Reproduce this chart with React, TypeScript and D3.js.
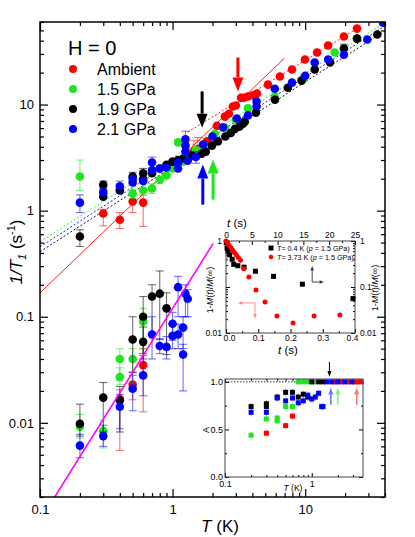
import { useRef, useEffect } from 'react';
import * as d3 from 'd3';

// main panel, rows are [T (K), 1/T1 (1/s), errLow, errHigh]
// upper branch (long component)
const ambientLong = [
  [0.3, 0.94, 0.72, 1.03], [0.4, 0.82, 0.68, 0.96], [0.5, 1.22, 0.96, 1.38], [0.6, 1.19, 0.71, 1.4],
  [1.45, 3.6, 3.0, 4.6], [1.55, 3.8, 3.2, 4.9], [1.82, 4.5], [2.16, 6.3], [2.48, 7.7], [2.66, 8.2],
  [2.85, 9.6], [3.0, 9.8], [3.28, 11.6], [3.45, 11.6], [3.7, 11.9], [4.04, 12.2], [4.33, 12.7],
  [5.24, 15.4], [6.45, 18.4], [7.95, 21.4], [9.96, 26.6], [12.3, 31], [14.9, 36], [19.6, 43.8], [24.6, 52],
];
const p15Long = [
  [0.2, 2.1, 1.55, 3.0], [0.3, 1.45, 1.3, 1.6], [0.4, 1.6, 1.45, 1.75], [0.5, 1.45, 1.3, 1.6], [0.6, 1.55],
  [0.7, 1.62, 1.45, 1.8], [0.8, 1.95], [0.9, 2.15], [1.0, 2.5], [1.1, 4.4], [1.2, 2.9], [1.3, 3.2],
  [1.5, 3.7], [1.7, 4.1], [2.08, 5.3], [2.5, 6.0], [3.0, 7.2], [3.7, 9.2], [5.9, 11.9], [9.8, 17.9],
  [16.7, 31], [24.6, 42],
];
const p19Long = [
  [0.2, 0.57, 0.46, 0.66], [0.3, 1.75, 1.6, 1.9], [0.3, 1.35], [0.4, 1.55], [0.5, 2.1, 1.9, 2.3],
  [0.6, 2.25, 2.0, 2.5], [0.6, 2.0], [0.7, 2.25], [0.8, 2.5], [0.9, 2.7], [1.0, 2.9], [1.1, 3.0],
  [1.2, 3.1], [1.4, 3.3], [1.66, 3.45], [1.78, 3.6], [1.98, 4.1], [2.2, 4.5], [2.5, 5.0], [2.75, 5.4],
  [2.95, 5.9], [3.2, 6.2], [3.4, 6.6], [3.5, 6.9], [4.25, 8.4], [5.92, 11.1], [7.4, 14.4], [9.4, 16.8],
  [11.8, 21.4], [15.4, 25], [19.6, 33.7, 30.5, 37], [24.6, 41.8], [35, 45.8],
];
const p21Long = [
  [0.2, 1.19, 0.96, 1.41], [0.3, 1.5, 1.35, 1.65], [0.4, 1.7, 1.5, 1.9], [0.5, 1.84], [0.5, 2.0],
  [0.6, 1.9], [0.7, 2.84, 2.5, 3.2], [0.7, 2.4], [0.8, 2.5], [0.9, 2.55], [1.1, 2.84], [1.1, 2.5],
  [1.25, 4.7, 4.2, 5.6], [1.25, 4.1], [1.25, 3.6], [1.3, 2.95], [1.5, 3.2, 2.8, 3.6], [1.7, 4.2],
  [2.0, 5.0], [2.4, 6.1], [3.05, 7.4], [3.7, 7.9], [4.3, 9.6], [4.3, 10.7], [5.9, 14.1], [7.95, 16.1],
  [10, 18.7], [11.8, 24.9], [14.9, 26.6], [19.6, 29.5], [29.4, 41], [38.7, 59],
];

// lower branch (short component)
const ambientShort = [[0.4, 0.0168, 0.0055, 0.0205], [0.5, 0.023, 0.0165, 0.028], [0.6, 0.035, 0.0127, 0.05]];
const p15Short = [
  [0.2, 0.0092, 0.0072, 0.012], [0.3, 0.0084, 0.0058, 0.0106], [0.4, 0.027, 0.023, 0.033],
  [0.4, 0.04, 0.025, 0.05], [0.5, 0.04, 0.02, 0.05], [0.6, 0.09, 0.05, 0.12],
];
const p19Short = [
  [0.2, 0.0098, 0.0075, 0.015], [0.3, 0.0173, 0.0082, 0.024], [0.4, 0.0163, 0.0082, 0.022],
  [0.5, 0.061, 0.03, 0.1], [0.6, 0.058, 0.04, 0.08], [0.6, 0.1, 0.045, 0.155], [0.7, 0.155, 0.07, 0.2],
  [0.8, 0.165, 0.061, 0.27], [0.9, 0.12, 0.044, 0.168],
];
const p21Short = [
  [0.2, 0.0061, 0.0047, 0.0078], [0.3, 0.0075, 0.006, 0.0095], [0.4, 0.0142, 0.0088, 0.0185],
  [0.5, 0.021, 0.013, 0.03], [0.6, 0.028, 0.018, 0.043], [0.7, 0.068, 0.04, 0.1], [0.8, 0.053, 0.045, 0.062],
  [0.9, 0.052, 0.04, 0.065], [1.0, 0.086, 0.06, 0.11], [1.0, 0.066, 0.05, 0.085], [1.1, 0.068, 0.05, 0.085],
  [1.1, 0.19, 0.1, 0.24], [1.2, 0.079, 0.05, 0.1], [1.2, 0.044, 0.02, 0.055], [1.25, 0.165, 0.1, 0.2],
  [1.3, 0.148, 0.1, 0.18],
];

const seriesNames = ['Ambient', '1.5 GPa', '1.9 GPa', '2.1 GPa'];
const seriesColors = ['#ff0000', '#1ee61e', '#000000', '#0000ff'];

// power law fits 1/T1 = a*T^b, [a, b, Tmin, Tmax]
const dottedFits = [[4.5, 0.764, 1.3, 25], [3.17, 0.794, 0.1, 38], [2.59, 0.8, 0.1, 40], [2.88, 0.8, 0.1, 40]];
const ambientSolidFit = [2.66, 1.2, 0.1, 7.0];
const shortFit = [0.12, 2, 0.1, 2.02];

// Tc arrows, [T, from, to]
const tcArrows = [[3.11, 27.8, 13.3], [2.02, 1.27, 3.03], [1.67, 13.3, 6.06], [1.69, 1.14, 2.72]];

// inset 1: recovery curves
const rec04t = [0.05, 0.2, 0.4, 0.7, 1.2, 1.5, 2.3, 3.5, 5.7, 9.2, 14.8, 24.6]; // s, top axis
const rec04m = [0.92, 0.7, 0.6, 0.5, 0.4, 0.31, 0.29, 0.27, 0.22, 0.17, 0.115, 0.056];
const rec373t = [0.0, 0.005, 0.01, 0.015, 0.02, 0.026, 0.032, 0.038, 0.045, 0.055, 0.071, 0.093, 0.121, 0.158, 0.208, 0.273, 0.353];
const rec373m = [1.0, 0.9, 0.8, 0.72, 0.64, 0.56, 0.5, 0.44, 0.38, 0.25, 0.165, 0.086, 0.047, 0.0235, 0.0165, 0.0235, 0.0245];

// inset 2: A vs T
const aAmbT = [0.3, 0.5, 0.6, 1.85, 2.2, 2.6, 3.1, 3.4, 3.7];
const aAmbV = [0.46, 0.54, 0.64, 1, 1, 1, 1, 1, 1];
const a15T = [0.2, 0.3, 0.4, 0.4, 0.5, 0.6, 0.7, 0.79, 0.88, 1.05];
const a15V = [0.44, 0.61, 0.62, 0.59, 0.74, 0.74, 1, 1, 1, 1];
const a19T = [0.2, 0.3, 0.3, 0.4, 0.5, 0.6, 0.7, 0.8, 0.9, 1.0, 1.2, 1.35];
const a19V = [0.74, 0.77, 0.74, 0.84, 0.89, 0.89, 0.84, 0.87, 0.84, 1, 1, 1];
const a21T = [0.2, 0.3, 0.4, 0.5, 0.6, 0.7, 0.8, 0.9, 1.0, 1.1, 1.2, 1.3, 1.35, 1.5, 1.7, 2.0, 2.4, 2.9];
const a21V = [0.68, 0.68, 0.83, 0.80, 0.83, 0.78, 0.80, 0.86, 0.82, 0.84, 0.88, 0.74, 0.74, 1, 1, 1, 1, 1];
const aArrowT = [3.3, 2.0, 1.6, 1.66];

const FONT = 'Arial, "Liberation Sans", Helvetica, sans-serif';

function logMinor(lo: number, hi: number) {
  const out: number[] = [];
  for (let e = -3; e <= 2; e++) {
    for (let m = 2; m < 10; m++) {
      const v = m * Math.pow(10, e);
      if (v >= lo * 0.999 && v <= hi * 1.001) out.push(v);
    }
  }
  return out;
}

function App() {
  const ref = useRef<SVGSVGElement>(null);

  useEffect(() => {
    const svg = d3.select(ref.current);
    svg.selectAll('*').remove();
    svg.append('rect').attr('width', 415).attr('height', 537).attr('fill', '#fff');

    const addAxis = (gen: any, tr: string, values: number[], size: number, fmt: any, fs: number, pad: number, sw = 1) => {
      const g = svg.append('g').attr('transform', tr)
        .call(gen.tickValues(values).tickSize(size).tickPadding(pad).tickFormat(fmt));
      g.select('.domain').remove();
      g.attr('font-size', fs).attr('font-family', FONT);
      g.selectAll('line').attr('stroke-width', sw);
      return g;
    };
    const none = () => '';

    const arrow = (g: any, x1: number, y1: number, x2: number, y2: number, color: string, w: number, hw: number, hl: number, op = 1) => {
      const len = Math.hypot(x2 - x1, y2 - y1);
      const ux = (x2 - x1) / len, uy = (y2 - y1) / len;
      const bx = x2 - ux * hl, by = y2 - uy * hl;
      g.append('line').attr('x1', x1).attr('y1', y1).attr('x2', bx).attr('y2', by)
        .attr('stroke', color).attr('stroke-width', w).attr('opacity', op);
      g.append('path')
        .attr('d', `M${x2},${y2}L${bx - uy * hw / 2},${by + ux * hw / 2}L${bx + uy * hw / 2},${by - ux * hw / 2}Z`)
        .attr('fill', color).attr('opacity', op);
    };

    // ---------- main panel ----------
    const x = d3.scaleLog().domain([0.1, 40]).range([40, 385]);
    const y = d3.scaleLog().domain([0.002, 60]).range([497, 22]);

    svg.append('defs').append('clipPath').attr('id', 'main-clip')
      .append('rect').attr('x', 40).attr('y', 22).attr('width', 345).attr('height', 475);
    const plot = svg.append('g').attr('clip-path', 'url(#main-clip)');

    const fitLine = (f: number[], color: string, dash: string | null, width: number) => {
      const [a, b, t0, t1] = f;
      plot.append('path').datum([t0, t1])
        .attr('d', d3.line<number>().x(t => x(t)).y(t => y(a * Math.pow(t, b))))
        .attr('fill', 'none').attr('stroke', color).attr('stroke-width', width)
        .attr('stroke-dasharray', dash);
    };
    dottedFits.forEach((f, i) => fitLine(f, seriesColors[i], '2,2', 0.9));
    fitLine(ambientSolidFit, '#ff0000', null, 0.9);

    const drawSeries = (rows: number[][], color: string) => {
      const g = plot.append('g');
      rows.filter(r => r.length > 3).forEach(r => {
        const cx = x(r[0]);
        g.append('line').attr('x1', cx).attr('x2', cx).attr('y1', y(r[2])).attr('y2', y(r[3]))
          .attr('stroke', color).attr('stroke-width', 1.1).attr('opacity', 0.55);
        [r[2], r[3]].forEach(v => g.append('line').attr('x1', cx - 4).attr('x2', cx + 4)
          .attr('y1', y(v)).attr('y2', y(v)).attr('stroke', color).attr('stroke-width', 1.1).attr('opacity', 0.55));
      });
      g.selectAll('circle').data(rows).join('circle')
        .attr('cx', r => x(r[0])).attr('cy', r => y(r[1])).attr('r', 4.3).attr('fill', color);
    };
    [ambientLong, p15Long, p19Long, p21Long].forEach((s, i) => drawSeries(s, seriesColors[i]));
    [ambientShort, p15Short, p19Short, p21Short].forEach((s, i) => drawSeries(s, seriesColors[i]));
    fitLine(shortFit, '#ff00ff', null, 1.6);

    tcArrows.forEach((a, i) => arrow(svg, x(a[0]), y(a[1]), x(a[0]), y(a[2]), seriesColors[i], 3, 11, 14));

    // axes
    addAxis(d3.axisBottom(x), 'translate(0,497)', [0.1, 1, 10], -8, (d: number) => String(d), 13, 8, 1.2);
    addAxis(d3.axisBottom(x), 'translate(0,497)', logMinor(0.1, 40), -4, none, 13, 8, 1.2);
    addAxis(d3.axisTop(x), 'translate(0,22)', [0.1, 1, 10], -8, none, 13, 8, 1.2);
    addAxis(d3.axisTop(x), 'translate(0,22)', logMinor(0.1, 40), -4, none, 13, 8, 1.2);
    addAxis(d3.axisLeft(y), 'translate(40,0)', [0.01, 0.1, 1, 10], -8, (d: number) => String(d), 13, 6, 1.2);
    addAxis(d3.axisLeft(y), 'translate(40,0)', logMinor(0.002, 60), -4, none, 13, 6, 1.2);
    addAxis(d3.axisRight(y), 'translate(385,0)', [0.01, 0.1, 1, 10], -8, none, 13, 6, 1.2);
    addAxis(d3.axisRight(y), 'translate(385,0)', logMinor(0.002, 60), -4, none, 13, 6, 1.2);
    svg.append('rect').attr('x', 40).attr('y', 22).attr('width', 345).attr('height', 475)
      .attr('fill', 'none').attr('stroke', '#000').attr('stroke-width', 1.5);

    // axis titles
    const xt = svg.append('text').attr('x', 220).attr('y', 532).attr('text-anchor', 'middle')
      .attr('font-family', FONT).attr('font-size', 17);
    xt.append('tspan').attr('font-style', 'italic').text('T');
    xt.append('tspan').text(' (K)');
    const yt = svg.append('text').attr('transform', 'translate(22,252) rotate(-90)').attr('text-anchor', 'middle')
      .attr('font-family', FONT).attr('font-size', 17);
    yt.append('tspan').attr('font-style', 'italic').text('1/T');
    yt.append('tspan').attr('font-style', 'italic').attr('font-size', 11).attr('dy', 4).text('1');
    yt.append('tspan').attr('dy', -4).text(' (s');
    yt.append('tspan').attr('font-size', 11).attr('dy', -7).text('-1');
    yt.append('tspan').attr('dy', 7).text(')');

    // legend
    svg.append('text').attr('x', 68).attr('y', 55).attr('font-family', FONT).attr('font-size', 20).text('H = 0');
    seriesNames.forEach((n, i) => {
      svg.append('circle').attr('cx', 73).attr('cy', 69 + 20 * i).attr('r', 4).attr('fill', seriesColors[i]);
      svg.append('text').attr('x', 97).attr('y', 74.5 + 20 * i).attr('font-family', FONT).attr('font-size', 16).text(n);
    });

    // ---------- inset 1: recovery ----------
    const ix = d3.scaleLinear().domain([0, 0.4]).range([226, 355]);
    const ixTop = d3.scaleLinear().domain([0, 25]).range([226, 355]);
    const iy = d3.scaleLog().domain([0.01, 1]).range([333, 241]);
    svg.append('rect').attr('x', 226).attr('y', 241).attr('width', 129).attr('height', 92).attr('fill', '#fff');
    const f1 = (d: number) => d.toFixed(1);
    const bx1 = addAxis(d3.axisBottom(ix), 'translate(0,333)', [0, 0.1, 0.2, 0.3, 0.4], -4, f1, 8.5, 2);
    bx1.selectAll('text').attr('dx', (d: any) => (d === 0 ? 3 : d === 0.4 ? -3 : 0));
    addAxis(d3.axisBottom(ix), 'translate(0,333)', [0.05, 0.15, 0.25, 0.35], -2, none, 9, 2);
    addAxis(d3.axisTop(ixTop), 'translate(0,241)', [0, 5, 10, 15, 20, 25], -4, (d: number) => String(d), 8.5, 3);
    addAxis(d3.axisTop(ixTop), 'translate(0,241)', [2.5, 7.5, 12.5, 17.5, 22.5], -2, none, 9, 3);
    addAxis(d3.axisLeft(iy), 'translate(226,0)', [0.01, 0.1, 1], -4, (d: number) => (d === 0.1 ? '' : String(d)), 8.5, 4);
    addAxis(d3.axisLeft(iy), 'translate(226,0)', logMinor(0.01, 1), -2, none, 9, 3);
    addAxis(d3.axisRight(iy), 'translate(355,0)', [0.01, 0.1, 1], -4, (d: number) => String(d), 8.5, 5);
    addAxis(d3.axisRight(iy), 'translate(355,0)', logMinor(0.01, 1), -2, none, 9, 4);
    svg.append('rect').attr('x', 226).attr('y', 241).attr('width', 129).attr('height', 92)
      .attr('fill', 'none').attr('stroke', '#444').attr('stroke-width', 1);

    const in1 = svg.append('g');
    in1.selectAll('rect.sq').data(rec04t).join('rect').attr('class', 'sq')
      .attr('x', t => ixTop(t) - 2.5).attr('y', (t, i) => iy(rec04m[i]) - 2.5)
      .attr('width', 5).attr('height', 5).attr('fill', '#000');
    in1.selectAll('circle').data(rec373t).join('circle')
      .attr('cx', t => ix(t)).attr('cy', (t, i) => iy(rec373m[i])).attr('r', 2.5).attr('fill', '#ff0000');

    const lg1 = [['0.4', '#000'], ['3.73', '#ff0000']];
    lg1.forEach(([tv, c], i) => {
      const yy = 248 + 9 * i;
      if (i === 0) in1.append('rect').attr('x', 268.5).attr('y', yy - 2.5).attr('width', 5).attr('height', 5).attr('fill', c);
      else in1.append('circle').attr('cx', 271).attr('cy', yy).attr('r', 2.3).attr('fill', c);
      const t = in1.append('text').attr('x', 277).attr('y', yy + 2.6).attr('font-family', FONT).attr('font-size', 7.2);
      t.append('tspan').attr('font-style', 'italic').text('T');
      t.append('tspan').text(`= ${tv} K (`);
      t.append('tspan').attr('font-style', 'italic').text('p');
      t.append('tspan').text(' = 1.5 GPa)');
    });
    // direction hints
    arrow(in1, ixTop(16.7), iy(0.128), ixTop(16.7), iy(0.286), '#333', 0.9, 3.5, 4.5);
    arrow(in1, ixTop(16.7), iy(0.128), ixTop(19.0), iy(0.128), '#333', 0.9, 3.5, 4.5);
    arrow(in1, ix(0.09), iy(0.045), ix(0.037), iy(0.045), '#ff5050', 0.9, 3.5, 4.5, 0.7);
    arrow(in1, ix(0.09), iy(0.045), ix(0.09), iy(0.0203), '#ff5050', 0.9, 3.5, 4.5, 0.7);

    const ttl = (tx: number, ty: number, rot: boolean, fs: number) => {
      const t = svg.append('text').attr('transform', `translate(${tx},${ty})${rot ? ' rotate(-90)' : ''}`)
        .attr('text-anchor', 'middle').attr('font-family', FONT).attr('font-size', fs);
      return t;
    };
    [[237, 227], [288, 354]].forEach(([tx, ty]) => {
      const t = ttl(tx, ty, false, 11.5);
      t.append('tspan').attr('font-style', 'italic').text('t');
      t.append('tspan').text(' (s)');
    });
    [[213, 290], [378, 288]].forEach(([tx, ty]) => {
      const t = ttl(tx, ty, true, 9);
      t.append('tspan').text('1-');
      t.append('tspan').attr('font-style', 'italic').text('M');
      t.append('tspan').text('(');
      t.append('tspan').attr('font-style', 'italic').text('t');
      t.append('tspan').text(')/');
      t.append('tspan').attr('font-style', 'italic').text('M');
      t.append('tspan').text('(\u221e)');
    });

    // ---------- inset 2: A vs T ----------
    const jx = d3.scaleLog().domain([0.1, 3.9]).range([225, 363]);
    const jy = d3.scaleLinear().domain([0, 1.03]).range([477, 379]);
    svg.append('rect').attr('x', 225).attr('y', 379).attr('width', 138).attr('height', 98).attr('fill', '#fff');
    addAxis(d3.axisBottom(jx), 'translate(0,477)', [0.1, 1], -4, (d: number) => String(d), 9, 4);
    addAxis(d3.axisBottom(jx), 'translate(0,477)', logMinor(0.1, 3.9), -2, none, 9, 4);
    addAxis(d3.axisTop(jx), 'translate(0,379)', [0.1, 1], -4, none, 9, 3);
    addAxis(d3.axisTop(jx), 'translate(0,379)', logMinor(0.1, 3.9), -2, none, 9, 3);
    addAxis(d3.axisLeft(jy), 'translate(225,0)', [0, 0.5, 1], -4, f1, 9, 2);
    addAxis(d3.axisLeft(jy), 'translate(225,0)', [0.25, 0.75], -2, none, 9, 2);
    addAxis(d3.axisRight(jy), 'translate(363,0)', [0, 0.5, 1], -4, none, 9, 2);
    addAxis(d3.axisRight(jy), 'translate(363,0)', [0.25, 0.75], -2, none, 9, 2);
    svg.append('line').attr('x1', 225).attr('x2', 363).attr('y1', jy(1)).attr('y2', jy(1))
      .attr('stroke', '#000').attr('stroke-width', 0.8).attr('stroke-dasharray', '1.5,1.5');

    const in2 = svg.append('g');
    const aSets = [[aAmbT, aAmbV], [a15T, a15V], [a19T, a19V], [a21T, a21V]];
    aSets.forEach(([ts, vs], k) => {
      const c = seriesColors[k];
      ts.forEach((t, i) => {
        if (vs[i] < 1) {
          in2.append('line').attr('x1', jx(t)).attr('x2', jx(t)).attr('y1', jy(vs[i] - 0.04)).attr('y2', jy(vs[i] + 0.04))
            .attr('stroke', c).attr('stroke-width', 1).attr('opacity', 0.3);
        }
        in2.append('rect').attr('x', jx(t) - 2.5).attr('y', jy(vs[i]) - 2.5).attr('width', 5).attr('height', 5).attr('fill', c);
      });
    });
    aArrowT.forEach((t, k) => {
      if (k === 2) arrow(svg, jx(t), jy(1.21), jx(t), jy(1.05), '#000', 1, 4, 6);
      else arrow(in2, jx(t), jy(0.76), jx(t), jy(0.94), seriesColors[k], 1.6, 5, 7, 0.55);
    });
    svg.append('rect').attr('x', 225).attr('y', 379).attr('width', 138).attr('height', 98)
      .attr('fill', 'none').attr('stroke', '#444').attr('stroke-width', 1);
    const at = ttl(293, 491, false, 8.5);
    at.append('tspan').attr('font-style', 'italic').text('T');
    at.append('tspan').text(' (K)');
    ttl(209, 430, true, 9).text('A');
  }, []);

  return <svg ref={ref} width={415} height={537} style={{ position: 'absolute', left: 0, top: 0 }} />;
}

export default App;
